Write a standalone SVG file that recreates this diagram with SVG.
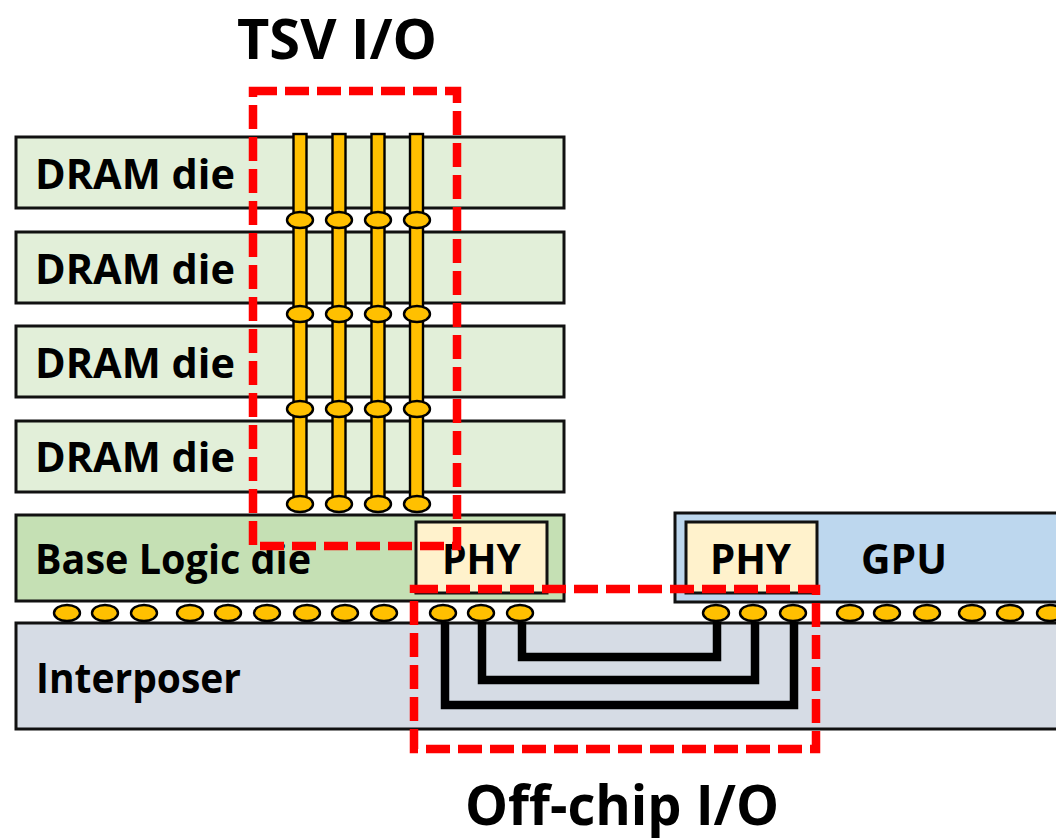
<svg xmlns="http://www.w3.org/2000/svg" width="1056" height="839" viewBox="0 0 1056 839">
<style>
.b{stroke:#111;stroke-width:3}
.d{fill:#E2EFD9}
.t{font-family:"Open Sans","Liberation Sans",sans-serif;font-weight:700;font-size:41px;fill:#000}
.h{font-size:56px}
.tsv{fill:#FFC000;stroke:#000;stroke-width:2.4}
.ball{fill:#FFC000;stroke:#000;stroke-width:2.4}
.wire{fill:none;stroke:#000;stroke-width:8.5;stroke-linejoin:miter}
.red{fill:none;stroke:#F00;stroke-width:8.5;stroke-dasharray:24 8}
</style>
<rect width="1056" height="839" fill="#fff"/>
<g id="dram1"><rect class="b d" x="16" y="137" width="548" height="71"/><text class="t" x="35" y="189" textLength="200" lengthAdjust="spacingAndGlyphs">DRAM die</text></g>
<g id="dram2"><rect class="b d" x="16" y="232" width="548" height="71"/><text class="t" x="35" y="284" textLength="200" lengthAdjust="spacingAndGlyphs">DRAM die</text></g>
<g id="dram3"><rect class="b d" x="16" y="326" width="548" height="71"/><text class="t" x="35" y="378" textLength="200" lengthAdjust="spacingAndGlyphs">DRAM die</text></g>
<g id="dram4"><rect class="b d" x="16" y="421" width="548" height="71"/><text class="t" x="35" y="472" textLength="200" lengthAdjust="spacingAndGlyphs">DRAM die</text></g>
<g id="base-logic"><rect class="b" fill="#C5E0B4" x="16" y="515" width="548" height="86"/><text class="t" x="35" y="574" textLength="276" lengthAdjust="spacingAndGlyphs">Base Logic die</text></g>
<g id="phy-left"><rect class="b" fill="#FFF2CC" x="416" y="522" width="131" height="71"/><text class="t" x="442" y="574" textLength="79" lengthAdjust="spacingAndGlyphs">PHY</text></g>
<g id="gpu"><rect class="b" fill="#BDD7EE" x="675" y="513" width="390" height="89"/><text class="t" x="861" y="574" textLength="86" lengthAdjust="spacingAndGlyphs">GPU</text></g>
<g id="phy-right"><rect class="b" fill="#FFF2CC" x="686" y="522" width="131" height="71"/><text class="t" x="710" y="574" textLength="81" lengthAdjust="spacingAndGlyphs">PHY</text></g>
<g id="interposer"><rect class="b" fill="#D6DCE5" x="16" y="623" width="1050" height="106"/><text class="t" x="36" y="693" textLength="205" lengthAdjust="spacingAndGlyphs">Interposer</text></g>
<g id="connectors">
<path class="wire" d="M522 622V657H717V622"/>
<path class="wire" d="M482 622V680H755V622"/>
<path class="wire" d="M445 622V705H794V622"/>
<g id="tsvs">
<rect class="tsv" x="293.500" y="134" width="13" height="80"/><rect class="tsv" x="332.500" y="134" width="13" height="80"/><rect class="tsv" x="371.500" y="134" width="13" height="80"/><rect class="tsv" x="410" y="134" width="13" height="80"/>
<rect class="tsv" x="293.500" y="226" width="13" height="82"/><rect class="tsv" x="332.500" y="226" width="13" height="82"/><rect class="tsv" x="371.500" y="226" width="13" height="82"/><rect class="tsv" x="410" y="226" width="13" height="82"/>
<rect class="tsv" x="293.500" y="320" width="13" height="83"/><rect class="tsv" x="332.500" y="320" width="13" height="83"/><rect class="tsv" x="371.500" y="320" width="13" height="83"/><rect class="tsv" x="410" y="320" width="13" height="83"/>
<rect class="tsv" x="293.500" y="415" width="13" height="83"/><rect class="tsv" x="332.500" y="415" width="13" height="83"/><rect class="tsv" x="371.500" y="415" width="13" height="83"/><rect class="tsv" x="410" y="415" width="13" height="83"/>
</g>
</g>
<g id="tsv-bumps">
<ellipse class="ball" cx="300" cy="220" rx="13" ry="8"/><ellipse class="ball" cx="339" cy="220" rx="13" ry="8"/><ellipse class="ball" cx="378" cy="220" rx="13" ry="8"/><ellipse class="ball" cx="417" cy="220" rx="13" ry="8"/>
<ellipse class="ball" cx="300" cy="314" rx="13" ry="8"/><ellipse class="ball" cx="339" cy="314" rx="13" ry="8"/><ellipse class="ball" cx="378" cy="314" rx="13" ry="8"/><ellipse class="ball" cx="417" cy="314" rx="13" ry="8"/>
<ellipse class="ball" cx="300" cy="409" rx="13" ry="8"/><ellipse class="ball" cx="339" cy="409" rx="13" ry="8"/><ellipse class="ball" cx="378" cy="409" rx="13" ry="8"/><ellipse class="ball" cx="417" cy="409" rx="13" ry="8"/>
<ellipse class="ball" cx="300" cy="504" rx="13" ry="8"/><ellipse class="ball" cx="339" cy="504" rx="13" ry="8"/><ellipse class="ball" cx="378" cy="504" rx="13" ry="8"/><ellipse class="ball" cx="417" cy="504" rx="13" ry="8"/>
</g>
<g id="micro-bumps">
<ellipse class="ball" cx="67" cy="613" rx="13" ry="8"/><ellipse class="ball" cx="105" cy="613" rx="13" ry="8"/><ellipse class="ball" cx="144" cy="613" rx="13" ry="8"/><ellipse class="ball" cx="190" cy="613" rx="13" ry="8"/><ellipse class="ball" cx="228" cy="613" rx="13" ry="8"/><ellipse class="ball" cx="267" cy="613" rx="13" ry="8"/><ellipse class="ball" cx="307" cy="613" rx="13" ry="8"/><ellipse class="ball" cx="345" cy="613" rx="13" ry="8"/><ellipse class="ball" cx="384" cy="613" rx="13" ry="8"/>
<ellipse class="ball" cx="443" cy="613" rx="13" ry="8"/><ellipse class="ball" cx="481" cy="613" rx="13" ry="8"/><ellipse class="ball" cx="520" cy="613" rx="13" ry="8"/>
<ellipse class="ball" cx="716" cy="613" rx="13" ry="8"/><ellipse class="ball" cx="753" cy="613" rx="13" ry="8"/><ellipse class="ball" cx="793" cy="613" rx="13" ry="8"/>
<ellipse class="ball" cx="850" cy="613" rx="13" ry="8"/><ellipse class="ball" cx="887" cy="613" rx="13" ry="8"/><ellipse class="ball" cx="927" cy="613" rx="13" ry="8"/><ellipse class="ball" cx="972" cy="613" rx="13" ry="8"/><ellipse class="ball" cx="1010" cy="613" rx="13" ry="8"/><ellipse class="ball" cx="1050" cy="613" rx="13" ry="8"/>
</g>
<g id="tsv-io"><path class="red" d="M253 91H457V546H253Z"/><text class="t h" x="237" y="59" textLength="200" lengthAdjust="spacingAndGlyphs">TSV I/O</text></g>
<g id="off-chip-io"><path class="red" d="M414 589H816V749H414Z"/><text class="t h" x="465" y="825" textLength="314" lengthAdjust="spacingAndGlyphs">Off-chip I/O</text></g>
</svg>
